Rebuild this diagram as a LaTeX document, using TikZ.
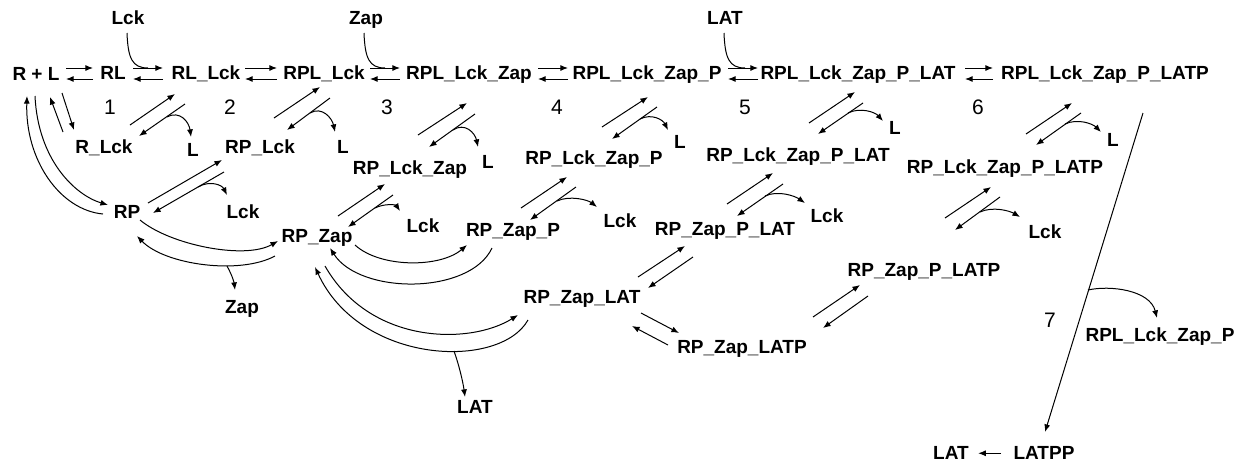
\documentclass[tikz,border=0pt]{standalone}
\usepackage{fontspec}
\setmainfont{Liberation Sans}
\usetikzlibrary{arrows.meta}
\tikzset{
  lab/.style={font=\bfseries\fontsize{9.5}{11}\selectfont, inner sep=0pt, anchor=base, yshift=-3.4pt},
  num/.style={font=\fontsize{10.5}{12}\selectfont, inner sep=0pt, anchor=base, yshift=-3.7pt},
  rx/.style={-{Latex[length=3.8pt,width=3pt]}, line width=0.5pt},
  ln/.style={line width=0.5pt}
}
\begin{document}
\begin{tikzpicture}[x=0.5pt,y=-0.5pt]
\useasboundingbox (0,0) rectangle (1250,467);
% top row
\node[lab] (rl0) at (36,74) {R + L};
\node[lab] (rl) at (113,73) {RL};
\node[lab] (rllck) at (206,73) {RL\_Lck};
\node[lab] (rpllck) at (324,73) {RPL\_Lck};
\node[lab] (rpllckzap) at (469,73) {RPL\_Lck\_Zap};
\node[lab] (rpllckzapp) at (647,73) {RPL\_Lck\_Zap\_P};
\node[lab] (rpllckzappl) at (858,73) {RPL\_Lck\_Zap\_P\_LAT};
\node[lab] (rpllckzappll) at (1105,73) {RPL\_Lck\_Zap\_P\_LATP};
\node[lab] (lck0) at (128,18) {Lck};
\node[lab] (zap0) at (366,18) {Zap};
\node[lab] (lat0) at (725,18) {LAT};
% numbers
\node[num] (n1) at (110,107) {1};
\node[num] (n2) at (230,107) {2};
\node[num] (n3) at (387,107) {3};
\node[num] (n4) at (557,107) {4};
\node[num] (n5) at (745,107) {5};
\node[num] (n6) at (978,107) {6};
\node[num] (n7) at (1050,320) {7};
% second row
\node[lab] (rlck) at (104,147) {R\_Lck};
\node[lab] (l1) at (193,150) {L};
\node[lab] (rplck) at (260,147) {RP\_Lck};
\node[lab] (l2) at (343,147) {L};
\node[lab] (rplckzap) at (410,168) {RP\_Lck\_Zap};
\node[lab] (l3) at (488,162) {L};
\node[lab] (rplckzapp) at (594,158) {RP\_Lck\_Zap\_P};
\node[lab] (l4) at (680,142) {L};
\node[lab] (rplckzappl) at (798,155) {RP\_Lck\_Zap\_P\_LAT};
\node[lab] (l5) at (895,128) {L};
\node[lab] (rplckzappll) at (1005,167) {RP\_Lck\_Zap\_P\_LATP};
\node[lab] (l6) at (1113,140) {L};
% third row
\node[lab] (rp) at (127,212) {RP};
\node[lab] (lcka) at (243,212) {Lck};
\node[lab] (rpzap) at (317,236) {RP\_Zap};
\node[lab] (zap1) at (242,307) {Zap};
\node[lab] (lckb) at (423,226) {Lck};
\node[lab] (rpzapp) at (513,230) {RP\_Zap\_P};
\node[lab] (lckc) at (620,221) {Lck};
\node[lab] (rpzappl) at (725,229) {RP\_Zap\_P\_LAT};
\node[lab] (lckd) at (827,216) {Lck};
\node[lab] (lcke) at (1045,232) {Lck};
\node[lab] (rpzappll) at (924,270) {RP\_Zap\_P\_LATP};
\node[lab] (rpzapl) at (582,297) {RP\_Zap\_LAT};
\node[lab] (rpzapll) at (742,347) {RP\_Zap\_LATP};
\node[lab] (lat1) at (475,407) {LAT};
\node[lab] (rpllckzapp2) at (1160,335) {RPL\_Lck\_Zap\_P};
\node[lab] (lat2) at (951,453) {LAT};
\node[lab] (latpp) at (1044,453) {LATPP};

% top row reversible arrows
\foreach \a/\b in {66/93,133/163,245/277,370/400,538/568,728/758,965/993}{
  \draw[rx] (\a,68) -- (\b,68);
  \draw[rx] (\b,79) -- (\a,79);
}
% incoming species
\draw[ln] (127,33) .. controls (128,58) and (132,68) .. (148,68);
\draw[ln] (364,33) .. controls (365,58) and (369,68) .. (385,68);
\draw[ln] (724,33) .. controls (725,58) and (729,68) .. (745,68);

% R+L <-> R_Lck
\draw[rx] (62,93) -- (74,130);
\draw[rx] (63,132) -- (50,97);
% R+L <-> RP
\draw[rx] (35,96) .. controls (38,160) and (75,195) .. (108,205);
\draw[rx] (103,214) .. controls (60,210) and (25,160) .. (27,96);

% diagonal pairs
\foreach \ax/\ay/\bx/\by/\cx/\cy/\dx/\dy in {
  130/125/175/94/185/104/139/136,
  274/118/320/87/330/98/287/130,
  418/135/467/103/475/114/429/147,
  602/127/648/97/657/107/612/139,
  809/123/855/92/863/103/818/134,
  1026/134/1072/103/1081/113/1036/145,
  148/203/222/160/224/172/153/213,
  338/216/385/184/393/195/348/227,
  521/208/567/177/576/187/530/220,
  727/204/773/173/783/184/737/216,
  945/218/991/187/1000/197/955/230,
  638/277/685/246/693/257/648/288,
  813/317/860/285/868/296/823/328}{
  \draw[rx] (\ax,\ay) -- (\bx,\by);
  \draw[rx] (\cx,\cy) -- (\dx,\dy);
}
% RP_Zap_LAT <-> RP_Zap_LATP
\draw[rx] (641,313) -- (679,333);
\draw[rx] (668,345) -- (632,326);

% release branches
\draw[rx] (167,117) .. controls (180,110) and (189,122) .. (191,137);
\draw[rx] (310,113) .. controls (322,106) and (332,118) .. (335,132);
\draw[rx] (453,130) .. controls (465,122) and (475,133) .. (478,147);
\draw[rx] (640,119) .. controls (652,113) and (663,120) .. (668,130);
\draw[rx] (848,113) .. controls (860,107) and (875,112) .. (883,121);
\draw[rx] (1065,124) .. controls (1078,118) and (1093,124) .. (1101,132);
\draw[rx] (198,187) .. controls (210,180) and (222,185) .. (227,195);
\draw[rx] (375,208) .. controls (385,203) and (396,205) .. (400,211);
\draw[rx] (557,201) .. controls (570,195) and (588,200) .. (597,207);
\draw[rx] (765,196) .. controls (778,190) and (795,196) .. (805,203);
\draw[rx] (980,212) .. controls (993,206) and (1010,211) .. (1020,217);

% RP <-> RP_Zap
\draw[rx] (140,220) .. controls (170,245) and (245,260) .. (278,241);
\draw[rx] (275,256) .. controls (240,275) and (165,265) .. (137,236);
\draw[rx] (227,266) .. controls (232,275) and (234,282) .. (235,290);
% RP_Zap <-> RP_Zap_P
\draw[rx] (355,245) .. controls (380,268) and (440,268) .. (467,245);
\draw[rx] (492,248) .. controls (470,295) and (360,295) .. (330,248);
% RP_Zap <-> RP_Zap_LAT
\draw[rx] (325,266) .. controls (370,345) and (470,345) .. (518,315);
\draw[rx] (528,320) .. controls (500,370) and (360,365) .. (315,267);
\draw[rx] (454,351) .. controls (459,365) and (463,382) .. (465,397);

% step 7
\draw[rx] (1143,113) -- (1045,432);
\draw[rx] (1088,290) .. controls (1110,285) and (1150,290) .. (1157,318);
\draw[rx, shorten <=6pt, shorten >=4.5pt] (latpp) -- (lat2);
\end{tikzpicture}
\end{document}
